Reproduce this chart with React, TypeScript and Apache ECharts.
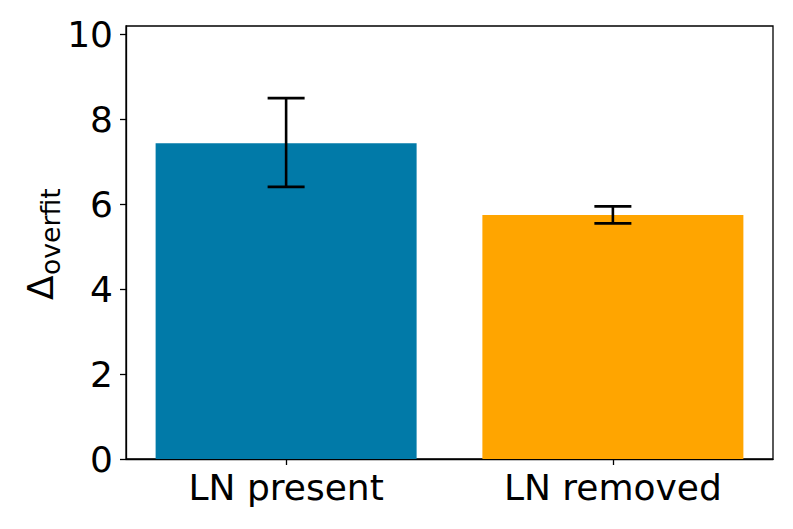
import React, { useEffect, useRef } from "react";
import * as echarts from "echarts";

const categories = ["LN present", "LN removed"];
const means = [7.44, 5.75];
const errLow = [6.41, 5.55];
const errHigh = [8.5, 5.95];
const barColors = ["#017AA8", "#FFA500"];
const yTicks = [0, 2, 4, 6, 8, 10];

const FONT = "DejaVu Sans";

export default function App() {
  const ref = useRef<HTMLDivElement>(null);
  useEffect(() => {
    if (!ref.current) return;
    const chart = echarts.init(ref.current, null, { renderer: "svg" });
    const xIdx = categories.map((_, i) => i);
    chart.setOption({
      animation: false,
      backgroundColor: "#ffffff",
      grid: {
        left: 126,
        top: 26,
        right: 20,
        bottom: 70,
        show: true,
        borderColor: "#000000",
        borderWidth: 1.3,
        backgroundColor: "transparent",
      },
      xAxis: {
        type: "value",
        min: -0.49,
        max: 1.49,
        splitLine: { show: false },
        axisLine: { show: true, onZero: false, lineStyle: { color: "#000", width: 1.3 } },
        axisTick: {
          show: true,
          customValues: xIdx,
          length: 6,
          lineStyle: { color: "#000", width: 1.3 },
        },
        axisLabel: {
          customValues: xIdx,
          formatter: (v: number) => categories[Math.round(v)] ?? "",
          color: "#000",
          fontFamily: FONT,
          fontSize: 36,
          margin: 10,
        },
      },
      yAxis: {
        type: "value",
        min: 0,
        max: 10.2,
        interval: 2,
        splitLine: { show: false },
        axisLine: { show: true, onZero: false, lineStyle: { color: "#000", width: 1.3 } },
        axisTick: {
          show: true,
          customValues: yTicks,
          length: 6,
          lineStyle: { color: "#000", width: 1.3 },
        },
        axisLabel: {
          customValues: yTicks,
          color: "#000",
          fontFamily: FONT,
          fontSize: 36,
          margin: 13,
        },
      },
      series: [
        {
          type: "bar",
          barWidth: 261,
          data: means.map((m, i) => ({
            value: [i, m],
            itemStyle: { color: barColors[i] },
          })),
          z: 2,
        },
        {
          type: "custom",
          z: 5,
          data: means.map((_, i) => [i, errLow[i], errHigh[i]]),
          renderItem: (params: any, api: any) => {
            const x = api.value(0);
            const lo = api.coord([x, api.value(1)]);
            const hi = api.coord([x, api.value(2)]);
            const cap = 18.5;
            const style = { stroke: "#000", lineWidth: 2.6 };
            return {
              type: "group",
              children: [
                { type: "line", shape: { x1: lo[0], y1: lo[1], x2: hi[0], y2: hi[1] }, style },
                { type: "line", shape: { x1: lo[0] - cap, y1: lo[1], x2: lo[0] + cap, y2: lo[1] }, style },
                { type: "line", shape: { x1: hi[0] - cap, y1: hi[1], x2: hi[0] + cap, y2: hi[1] }, style },
              ],
            };
          },
        },
      ],
      graphic: [
        {
          type: "text",
          x: 40.8,
          y: 300,
          rotation: Math.PI / 2,
          style: {
            text: "Δ",
            fontFamily: FONT,
            fontSize: 36,
            fill: "#000",
            textAlign: "left",
            verticalAlign: "middle",
          },
        },
        {
          type: "text",
          x: 50.8,
          y: 275,
          rotation: Math.PI / 2,
          style: {
            text: "overfit",
            fontFamily: FONT,
            fontSize: 26.7,
            fill: "#000",
            textAlign: "left",
            verticalAlign: "middle",
          },
        },
      ],
    });
    return () => chart.dispose();
  }, []);
  return (
    <div
      ref={ref}
      style={{ position: "absolute", left: 0, top: 0, width: 793, height: 529 }}
    />
  );
}
